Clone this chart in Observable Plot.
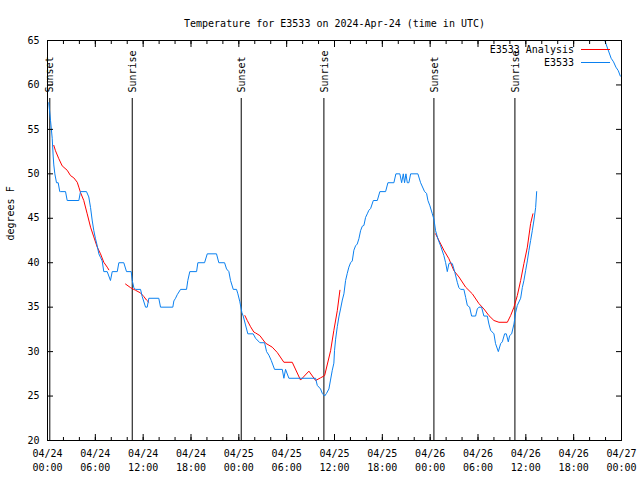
<!DOCTYPE html>
<html>
<head>
<meta charset="utf-8">
<script src="https://cdn.jsdelivr.net/npm/d3@7"></script>
<script src="https://cdn.jsdelivr.net/npm/@observablehq/plot@0.6"></script>
<style>
  html, body { margin: 0; padding: 0; background: #fff; }
</style>
</head>
<body>
<div id="chart"></div>
<script>
// ---- data (hours after 2024-04-24 00:00 UTC, degrees F) ----
const titleText = "Temperature for E3533 on 2024-Apr-24 (time in UTC)";
const yLabel = "degrees F";
const seriesNames = ["E3533 Analysis", "E3533"];

const obsHours = [0.16,0.38,0.59,0.71,0.79,0.92,1.13,1.34,1.54,1.63,2.26,2.47,3.93,4.14,4.89,5.18,5.4,5.6,5.81,6.02,6.24,6.44,6.65,6.86,7.06,7.49,7.9,8.12,8.75,8.95,9.57,9.91,10.5,10.63,10.83,11.04,11.67,11.88,12.3,12.51,12.71,13.96,14.18,15.72,15.85,16.06,16.27,16.69,17.44,17.6,17.85,18.7,18.86,19.7,20.04,21.2,21.49,22.21,22.46,22.75,22.96,23.3,23.71,23.88,24.13,24.38,24.55,24.84,25.13,25.8,26.1,26.64,27.23,27.48,27.77,28.07,28.48,29.45,29.65,29.86,30.28,33.63,33.84,34.25,34.47,34.76,35.0,35.3,35.5,35.72,35.92,36.0,36.14,36.35,36.55,36.76,36.98,37.18,37.39,37.6,37.8,38.02,38.23,38.43,38.64,38.85,39.06,39.27,39.48,39.69,39.9,40.11,40.31,40.53,40.87,41.37,41.69,42.41,42.7,43.45,43.7,44.2,44.42,44.63,44.79,44.96,45.13,45.33,45.55,46.46,46.8,47.3,47.55,47.72,47.97,48.27,48.47,48.68,48.97,49.22,49.31,49.72,49.94,50.15,50.35,50.56,50.78,51.1,51.4,51.6,51.82,52.23,52.45,52.66,52.95,53.2,53.7,53.91,54.12,54.45,54.74,55.17,55.37,55.58,56.0,56.2,56.55,56.84,57.05,57.34,57.55,57.8,57.97,58.22,58.51,58.72,58.93,59.35,59.56,59.76,59.97,60.19,60.39,60.6,60.81,61.02,61.23,61.36,
  null,69.9,70.3,70.7,71.0,71.3,71.6,71.85];
const obsTemps = [58,56,54,52,51,50,49,49,48,48,48,47,47,48,48,47.4,46.2,44.8,43.6,42.7,41.9,41,40.6,40.2,39,39,38,39,39,40,40,39,39,38,37.2,37,37,36.2,35,35,36,36,35,35,35.7,36,36.4,37,37,38,39,39,40,40,41,41,40,40,39.3,39,38,37,37,36.5,35.6,34.4,34,33,32,32,31.5,31,31,30,29.6,29,28,28,27,28,27,27,26.2,25.8,25.3,25,25.3,25.8,26.8,27.9,28.7,30.1,31.4,32.8,33.9,34.8,35.8,36.5,38,38.8,39.5,40,40.2,41.4,41.9,42.1,42.7,43.6,44.1,44.2,45.1,45.5,45.9,46.1,47,47,48,48,49,49,50,50,49,50,49,50,49,49,50,50,49,48,47.8,47,46.4,45.5,44.9,43.6,42.7,42.1,41.9,40.8,40,39,39.9,40,39.9,38.9,37.8,37.2,37,37,36.1,35.2,35,34,34,34.8,35,35,34,34,33.1,32.4,32,30.9,30,30.9,31.1,32,32,31.1,31.8,32,33.1,34.4,35.2,36,37.2,38,39.1,40.2,41.4,42.5,43.6,44.8,46.2,48,
  null,65,64,63,62.6,62,61.6,61];

const anaHours = [0.79,1.0,1.42,1.84,2.47,2.89,3.3,3.73,3.93,4.14,4.55,4.98,5.4,5.81,6.24,6.65,7.06,7.49,7.69,
  null,9.79,10.41,11.04,11.67,12.08,12.42,12.71,
  null,24.76,25.06,25.47,25.88,26.1,26.64,27.35,28.19,28.82,29.65,30.7,31.74,32.79,33.63,34.25,34.76,35.51,35.92,36.35,36.68,
  null,48.68,49.1,49.72,50.35,50.98,51.61,52.45,53.29,54.12,54.74,55.37,56.0,56.63,57.68,58.09,58.51,58.93,59.35,59.76,60.19,60.6,60.89];
const anaTemps = [53.2,52.6,51.7,50.9,50.4,49.8,49.55,49.05,48.5,47.9,47,45.5,44,42.9,41.75,41,40.05,39.5,39.2,
  null,37.6,37.2,36.9,36.6,36.2,35.8,35.55,
  null,34.05,33.5,32.8,32.2,32.1,31.8,30.95,30.5,29.9,28.8,28.8,26.8,27.8,26.75,27.05,27.3,30.1,32.4,34.6,36.9,
  null,43.25,42.5,41.4,40.45,39.1,38.4,37.25,36.5,35.4,34.8,34.05,33.5,33.3,33.3,34.05,35,36.3,38,39.9,41.75,44.4,45.5];

const eventHours = [0.29, 10.63, 24.3, 34.67, 48.47, 58.63];
const eventLabels = ["Sunset", "Sunrise", "Sunset", "Sunrise", "Sunset", "Sunrise"];

const yTicks = [20, 25, 30, 35, 40, 45, 50, 55, 60, 65];
const startDate = Date.UTC(2024, 3, 24);
const endDate = Date.UTC(2024, 3, 27);

// ---- build tables ----
const toDate = h => h == null ? null : new Date(startDate + h * 3600e3);
const obs = obsHours.map((h, i) => ({t: toDate(h), v: obsTemps[i]}));
const ana = anaHours.map((h, i) => ({t: toDate(h), v: anaTemps[i]}));
const events = eventHours.map((h, i) => ({t: toDate(h), label: eventLabels[i]}));

const RED = "#ff0000";
const BLUE = "#0a80f0";
const FONT = "DejaVu Sans Mono";

const majorX = d3.utcHour.every(6).range(new Date(startDate), new Date(endDate + 1));
const minorX = d3.utcHour.every(2).range(new Date(startDate), new Date(endDate + 1));
const fmt = d3.utcFormat("%m/%d\n%H:%M");

function legend(index, scales, values, dims) {
  const g = d3.create("svg:g")
    .attr("font-family", FONT).attr("font-size", 10);
  const xr = dims.width - dims.marginRight;
  const colors = [RED, BLUE];
  seriesNames.forEach((name, i) => {
    const y = dims.marginTop + 9.5 + i * 13;
    g.append("text").attr("x", xr - 47).attr("y", y).attr("dy", "0.35em")
      .attr("text-anchor", "end").attr("fill", "black").text(name);
    g.append("line").attr("x1", xr - 40).attr("x2", xr - 11)
      .attr("y1", y).attr("y2", y).attr("stroke", colors[i]).attr("stroke-width", 1);
  });
  return g.node();
}

const chart = Plot.plot({
  width: 640,
  height: 480,
  marginLeft: 47,
  marginRight: 19,
  marginTop: 40,
  marginBottom: 40,
  style: {fontFamily: FONT, fontSize: "10px", background: "white", color: "black"},
  x: {type: "utc", domain: [new Date(startDate), new Date(endDate)]},
  y: {domain: [20, 65]},
  marks: [
    Plot.ruleX(events, {x: "t", insetTop: 58, stroke: "black", strokeWidth: 1}),
    Plot.text(events, {x: "t", text: "label", frameAnchor: "top", dy: 52, dx: -3.5, rotate: -90,
      textAnchor: "start", fill: "black", fontSize: 10}),
    Plot.line(ana, {x: "t", y: "v", stroke: RED, strokeWidth: 1, clip: true}),
    Plot.line(obs, {x: "t", y: "v", stroke: BLUE, strokeWidth: 1, clip: true}),
    Plot.frame({stroke: "black", strokeWidth: 1}),
    Plot.axisY({ticks: yTicks, tickSize: -6, tickPadding: 14, label: null, fontSize: 10}),
    Plot.axisY({anchor: "right", ticks: yTicks, tickSize: -6, tickFormat: () => "", label: null}),
    Plot.axisX({ticks: majorX, tickSize: -6, tickPadding: 13, tickFormat: fmt, label: null, lineHeight: 1.35, fontSize: 10}),
    Plot.axisX({ticks: minorX, tickSize: -3, tickFormat: () => "", label: null}),
    Plot.axisX({anchor: "top", ticks: majorX, tickSize: -6, tickFormat: () => "", label: null}),
    Plot.axisX({anchor: "top", ticks: minorX, tickSize: -3, tickFormat: () => "", label: null}),
    Plot.text([titleText], {frameAnchor: "top", dy: -21, fill: "black", fontSize: 10}),
    Plot.text([yLabel], {frameAnchor: "left", dx: -37, rotate: -90, fill: "black", fontSize: 10}),
    legend
  ]
});
document.getElementById("chart").appendChild(chart);
</script>
</body>
</html>
